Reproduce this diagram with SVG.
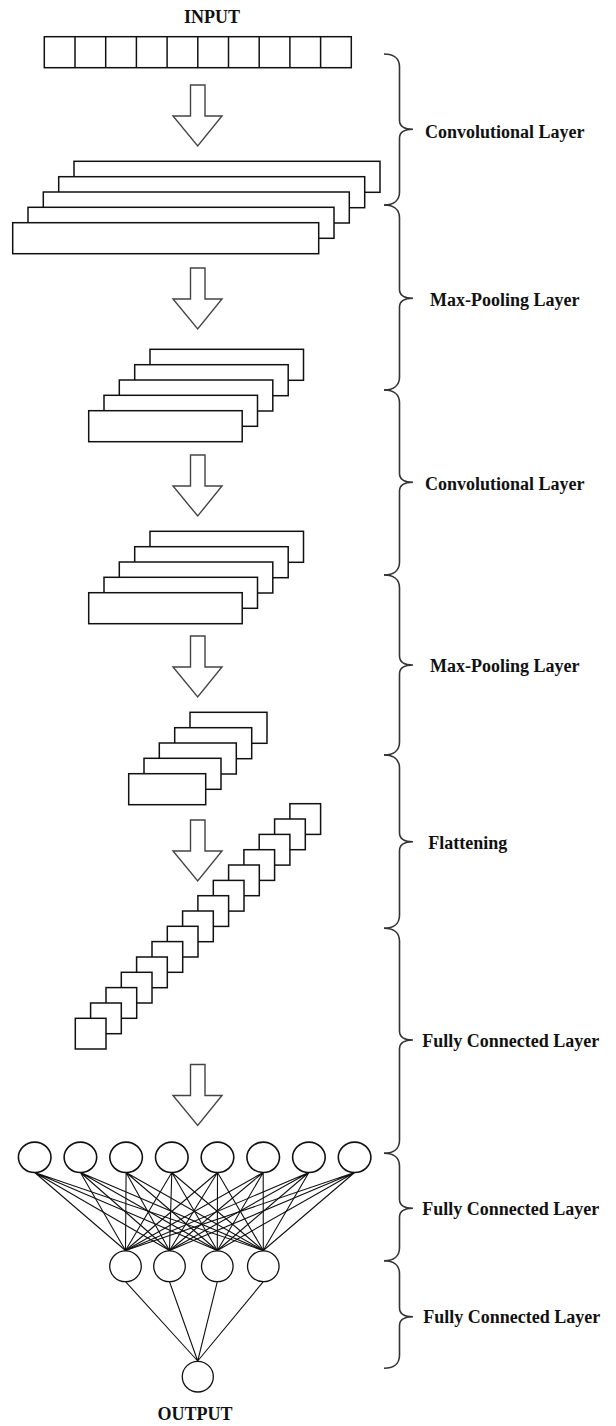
<svg xmlns="http://www.w3.org/2000/svg" width="616" height="1426" viewBox="0 0 616 1426">
<style>
.box{fill:#fff;stroke:#111;stroke-width:1.5}
.arrow{fill:#fff;stroke:#444;stroke-width:1.4;stroke-linejoin:miter}
.brace{fill:none;stroke:#333;stroke-width:1.6}
.lbl{font-family:"Liberation Serif","Times New Roman",serif;font-weight:bold;font-size:18px;fill:#111}
.neuron{fill:#fff;stroke:#111;stroke-width:1.6}
.edge{stroke:#111;stroke-width:1.1;fill:none}
</style>
<defs>
<polygon id="downArrow" class="arrow" points="190.5,0 205,0 205,31 222,31 197.7,61 173,31 190.5,31"/>
</defs>
<rect width="616" height="1426" fill="#fff"/>

<g id="input">
<text class="lbl" x="212" y="22.7" text-anchor="middle">INPUT</text>
<rect class="box" x="44.3" y="36.7" width="307" height="31"/>
<g stroke="#111" stroke-width="1.5">
<line x1="75" y1="36.7" x2="75" y2="67.7"/>
<line x1="105.7" y1="36.7" x2="105.7" y2="67.7"/>
<line x1="136.4" y1="36.7" x2="136.4" y2="67.7"/>
<line x1="167.1" y1="36.7" x2="167.1" y2="67.7"/>
<line x1="197.8" y1="36.7" x2="197.8" y2="67.7"/>
<line x1="228.5" y1="36.7" x2="228.5" y2="67.7"/>
<line x1="259.2" y1="36.7" x2="259.2" y2="67.7"/>
<line x1="289.9" y1="36.7" x2="289.9" y2="67.7"/>
<line x1="320.6" y1="36.7" x2="320.6" y2="67.7"/>
</g>
</g>

<g id="arrows">
<use href="#downArrow" y="85"/>
<use href="#downArrow" y="268"/>
<use href="#downArrow" y="455"/>
<use href="#downArrow" y="636"/>
<use href="#downArrow" y="820"/>
<use href="#downArrow" y="1064.5"/>
</g>

<g id="conv1">
<rect class="box" x="74" y="161.3" width="306" height="31"/>
<rect class="box" x="58.7" y="176.7" width="306" height="31"/>
<rect class="box" x="43.3" y="192" width="306" height="31"/>
<rect class="box" x="28" y="207.3" width="306" height="31"/>
<rect class="box" x="12.7" y="222.7" width="306" height="31"/>
</g>

<g id="pool1">
<rect class="box" x="150" y="349.3" width="153.5" height="31"/>
<rect class="box" x="134.7" y="364.7" width="153.5" height="31"/>
<rect class="box" x="119.3" y="380" width="153.5" height="31"/>
<rect class="box" x="104" y="395.3" width="153.5" height="31"/>
<rect class="box" x="88.7" y="410.7" width="153.5" height="31"/>
</g>

<g id="conv2">
<rect class="box" x="150" y="531.3" width="153.5" height="31"/>
<rect class="box" x="134.7" y="546.7" width="153.5" height="31"/>
<rect class="box" x="119.3" y="562" width="153.5" height="31"/>
<rect class="box" x="104" y="577.3" width="153.5" height="31"/>
<rect class="box" x="88.7" y="592.7" width="153.5" height="31"/>
</g>

<g id="pool2">
<rect class="box" x="190" y="712.3" width="77" height="31"/>
<rect class="box" x="174.7" y="727.7" width="77" height="31"/>
<rect class="box" x="159.3" y="743" width="77" height="31"/>
<rect class="box" x="144" y="758.3" width="77" height="31"/>
<rect class="box" x="128.7" y="773.7" width="77" height="31"/>
</g>

<g id="flatten">
<rect class="box" x="289.9" y="803.7" width="30.7" height="30.7"/>
<rect class="box" x="274.6" y="819" width="30.7" height="30.7"/>
<rect class="box" x="259.2" y="834.4" width="30.7" height="30.7"/>
<rect class="box" x="243.9" y="849.7" width="30.7" height="30.7"/>
<rect class="box" x="228.6" y="865" width="30.7" height="30.7"/>
<rect class="box" x="213.3" y="880.4" width="30.7" height="30.7"/>
<rect class="box" x="197.9" y="895.7" width="30.7" height="30.7"/>
<rect class="box" x="182.6" y="911" width="30.7" height="30.7"/>
<rect class="box" x="167.3" y="926.3" width="30.7" height="30.7"/>
<rect class="box" x="152" y="941.6" width="30.7" height="30.7"/>
<rect class="box" x="136.6" y="957" width="30.7" height="30.7"/>
<rect class="box" x="121.3" y="972.3" width="30.7" height="30.7"/>
<rect class="box" x="106" y="987.6" width="30.7" height="30.7"/>
<rect class="box" x="90.6" y="1003" width="30.7" height="30.7"/>
<rect class="box" x="75.3" y="1018.3" width="30.7" height="30.7"/>
</g>

<g id="connectors">
<g class="edge">
<path d="M34.7,1172.5 L125.5,1250.5 M34.7,1172.5 L169.5,1250.5 M34.7,1172.5 L217.3,1250.5 M34.7,1172.5 L263.3,1250.5"/>
<path d="M80.4,1172.5 L125.5,1250.5 M80.4,1172.5 L169.5,1250.5 M80.4,1172.5 L217.3,1250.5 M80.4,1172.5 L263.3,1250.5"/>
<path d="M126.1,1172.5 L125.5,1250.5 M126.1,1172.5 L169.5,1250.5 M126.1,1172.5 L217.3,1250.5 M126.1,1172.5 L263.3,1250.5"/>
<path d="M171.8,1172.5 L125.5,1250.5 M171.8,1172.5 L169.5,1250.5 M171.8,1172.5 L217.3,1250.5 M171.8,1172.5 L263.3,1250.5"/>
<path d="M217.5,1172.5 L125.5,1250.5 M217.5,1172.5 L169.5,1250.5 M217.5,1172.5 L217.3,1250.5 M217.5,1172.5 L263.3,1250.5"/>
<path d="M263.2,1172.5 L125.5,1250.5 M263.2,1172.5 L169.5,1250.5 M263.2,1172.5 L217.3,1250.5 M263.2,1172.5 L263.3,1250.5"/>
<path d="M308.9,1172.5 L125.5,1250.5 M308.9,1172.5 L169.5,1250.5 M308.9,1172.5 L217.3,1250.5 M308.9,1172.5 L263.3,1250.5"/>
<path d="M354.6,1172.5 L125.5,1250.5 M354.6,1172.5 L169.5,1250.5 M354.6,1172.5 L217.3,1250.5 M354.6,1172.5 L263.3,1250.5"/>
<path d="M125.5,1281.7 L197.7,1361 M169.5,1281.7 L197.7,1361 M217.3,1281.7 L197.7,1361 M263.3,1281.7 L197.7,1361"/>
</g>
</g>

<g id="fc-input-layer">
<ellipse class="neuron" cx="34.7" cy="1157.3" rx="16.3" ry="15.2"/>
<ellipse class="neuron" cx="80.4" cy="1157.3" rx="16.3" ry="15.2"/>
<ellipse class="neuron" cx="126.1" cy="1157.3" rx="16.3" ry="15.2"/>
<ellipse class="neuron" cx="171.8" cy="1157.3" rx="16.3" ry="15.2"/>
<ellipse class="neuron" cx="217.5" cy="1157.3" rx="16.3" ry="15.2"/>
<ellipse class="neuron" cx="263.2" cy="1157.3" rx="16.3" ry="15.2"/>
<ellipse class="neuron" cx="308.9" cy="1157.3" rx="16.3" ry="15.2"/>
<ellipse class="neuron" cx="354.6" cy="1157.3" rx="16.3" ry="15.2"/>
</g>

<g id="fc-hidden-layer">
<ellipse class="neuron" cx="125.5" cy="1266.3" rx="15.8" ry="15.4" style="stroke-width:1.3"/>
<ellipse class="neuron" cx="169.5" cy="1266.3" rx="15.8" ry="15.4" style="stroke-width:1.3"/>
<ellipse class="neuron" cx="217.3" cy="1266.3" rx="15.8" ry="15.4" style="stroke-width:1.3"/>
<ellipse class="neuron" cx="263.3" cy="1266.3" rx="15.8" ry="15.4" style="stroke-width:1.3"/>
</g>

<g id="output">
<ellipse class="neuron" cx="197.8" cy="1376.7" rx="15.5" ry="15.3" style="stroke-width:1.3"/>
<text class="lbl" x="195" y="1419.5" text-anchor="middle">OUTPUT</text>
</g>

<g id="braces">
<path class="brace" d="M384,54 C393,54 399.5,58 399.5,67 L399.5,120.3 C399.5,126.3 404,129.3 413,129.3 C404,129.3 399.5,132.3 399.5,138.3 L399.5,192 C399.5,201 393,205 384,205"/>
<path class="brace" d="M384,205 C393,205 399.5,209 399.5,218 L399.5,289.3 C399.5,295.3 404,298.3 413,298.3 C404,298.3 399.5,301.3 399.5,307.3 L399.5,377 C399.5,386 393,390 384,390"/>
<path class="brace" d="M384,390 C393,390 399.5,394 399.5,403 L399.5,473.3 C399.5,479.3 404,482.3 413,482.3 C404,482.3 399.5,485.3 399.5,491.3 L399.5,562 C399.5,571 393,575 384,575"/>
<path class="brace" d="M384,575 C393,575 399.5,579 399.5,588 L399.5,656 C399.5,662 404,665 413,665 C404,665 399.5,668 399.5,674 L399.5,742 C399.5,751 393,755 384,755"/>
<path class="brace" d="M384,755 C393,755 399.5,759 399.5,768 L399.5,832.7 C399.5,838.7 404,841.7 413,841.7 C404,841.7 399.5,844.7 399.5,850.7 L399.5,915.3 C399.5,924.3 393,928.3 384,928.3"/>
<path class="brace" d="M384,928.3 C393,928.3 399.5,932.3 399.5,941.3 L399.5,1031 C399.5,1037 404,1040 413,1040 C404,1040 399.5,1043 399.5,1049 L399.5,1140.3 C399.5,1149.3 393,1153.3 384,1153.3"/>
<path class="brace" d="M384,1153.3 C393,1153.3 399.5,1157.3 399.5,1166.3 L399.5,1199.3 C399.5,1205.3 404,1208.3 413,1208.3 C404,1208.3 399.5,1211.3 399.5,1217.3 L399.5,1247.7 C399.5,1256.7 393,1260.7 384,1260.7"/>
<path class="brace" d="M384,1260.7 C393,1260.7 399.5,1264.7 399.5,1273.7 L399.5,1307.7 C399.5,1313.7 404,1316.7 413,1316.7 C404,1316.7 399.5,1319.7 399.5,1325.7 L399.5,1355.3 C399.5,1364.3 393,1368.3 384,1368.3"/>
</g>

<g id="labels">
<text class="lbl" x="425" y="137.5">Convolutional Layer</text>
<text class="lbl" x="430" y="306">Max-Pooling Layer</text>
<text class="lbl" x="425" y="490">Convolutional Layer</text>
<text class="lbl" x="430" y="672">Max-Pooling Layer</text>
<text class="lbl" x="428.3" y="849">Flattening</text>
<text class="lbl" x="422.3" y="1046.7">Fully Connected Layer</text>
<text class="lbl" x="422.3" y="1215">Fully Connected Layer</text>
<text class="lbl" x="423.3" y="1323.3">Fully Connected Layer</text>
</g>
</svg>
